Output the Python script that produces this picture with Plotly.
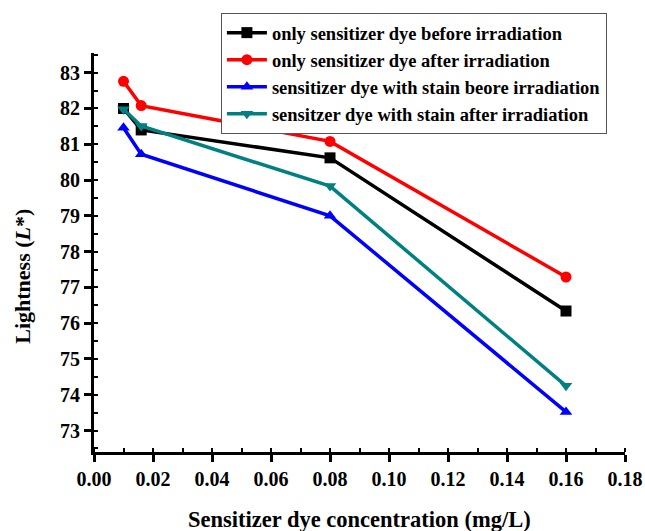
import plotly.graph_objects as go

x_conc = [0.01, 0.016, 0.08, 0.16]
names = [
    "only sensitizer dye before irradiation",
    "only sensitizer dye after irradiation",
    "sensitizer dye with stain beore irradiation",
    "sensitzer dye with stain after irradiation",
]
black_before = [82.0, 81.4, 80.62, 76.34]
red_after = [82.76, 82.08, 81.08, 77.29]
blue_stain_before = [81.46, 80.72, 79.0, 73.52]
teal_stain_after = [81.98, 81.51, 79.83, 74.25]
colors = ["#000000", "#FF0000", "#0000FF", "#008080"]
symbols = ["square", "circle", "triangle-up", "triangle-down"]
series = [black_before, red_after, blue_stain_before, teal_stain_after]

x_ticks = [0.00, 0.02, 0.04, 0.06, 0.08, 0.10, 0.12, 0.14, 0.16, 0.18]
y_ticks = list(range(73, 84))

fig = go.Figure()
for n, ys, c, s in zip(names, series, colors, symbols):
    fig.add_trace(go.Scatter(
        x=x_conc, y=ys, name=n, mode="lines+markers",
        line=dict(color=c, width=3.5),
        marker=dict(symbol=s, size=11, color=c),
    ))

font = "Liberation Serif, Times New Roman, serif"
fig.update_layout(
    width=645, height=531,
    margin=dict(l=94, r=20, t=53, b=79, autoexpand=False),
    paper_bgcolor="white", plot_bgcolor="white",
    font=dict(family=font, color="black", size=16),
    showlegend=True,
    legend=dict(
        x=0.239, y=1.10, xanchor="left", yanchor="top",
        bordercolor="#555555", borderwidth=1, bgcolor="white",
        font=dict(family=font, size=18.5, color="black", weight="bold"),
        tracegroupgap=0, itemwidth=40,
    ),
    xaxis=dict(
        range=[0, 0.18], tickvals=x_ticks,
        ticktext=["%.2f" % v for v in x_ticks],
        showline=True, linecolor="black", linewidth=3,
        ticks="outside", ticklen=7, tickwidth=3, tickcolor="black",
        minor=dict(ticks="inside", ticklen=4, tickwidth=1.5, tickcolor="black", dtick=0.01),
        showgrid=False, zeroline=False, mirror=False, automargin=False,
        tickfont=dict(size=20, family=font, weight="bold"),
    ),
    yaxis=dict(
        range=[72.4, 83.55], tickvals=y_ticks,
        ticktext=["%d" % v for v in y_ticks],
        showline=True, linecolor="black", linewidth=3,
        ticks="outside", ticklen=7, tickwidth=3, tickcolor="black",
        minor=dict(ticks="inside", ticklen=4, tickwidth=1.5, tickcolor="black", dtick=0.5),
        showgrid=False, zeroline=False, mirror=False, automargin=False,
        tickfont=dict(size=20, family=font, weight="bold"),
    ),
    annotations=[
        dict(text="<b>Sensitizer dye concentration (mg/L)</b>", xref="paper", yref="paper",
             x=0.5, y=-0.17, xanchor="center", yanchor="middle", showarrow=False,
             font=dict(size=22.5, family=font, color="black")),
        dict(text="<b>Lightness (<i>L</i>*)</b>", xref="paper", yref="paper",
             x=-0.135, y=0.44, xanchor="center", yanchor="middle", showarrow=False, textangle=-90,
             font=dict(size=22, family=font, color="black")),
    ],
)
fig.write_html("out.html")
